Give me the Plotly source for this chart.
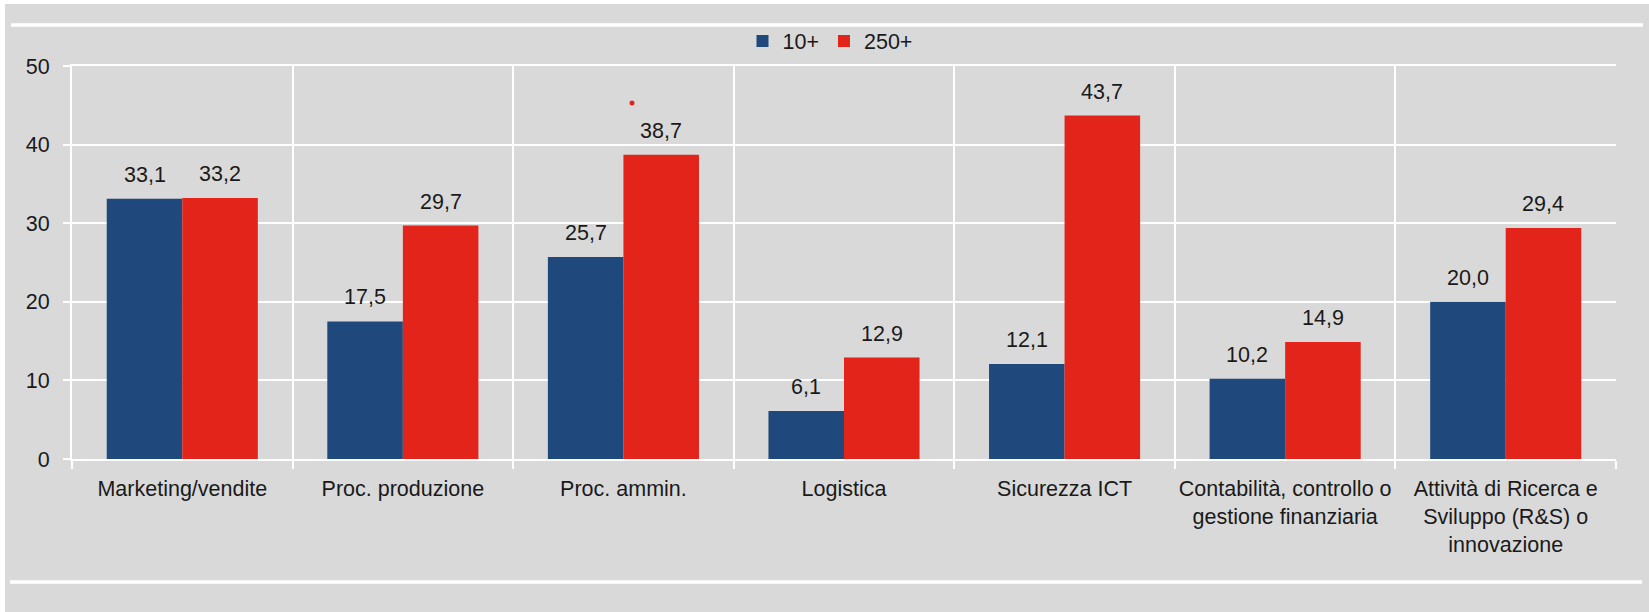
import plotly.graph_objects as go

# dati
categorie = [
    "Marketing/vendite",
    "Proc. produzione",
    "Proc. ammin.",
    "Logistica",
    "Sicurezza ICT",
    "Contabilità, controllo o<br>gestione finanziaria",
    "Attività di Ricerca e<br>Sviluppo (R&S) o<br>innovazione",
]
imprese_10 = [33.1, 17.5, 25.7, 6.1, 12.1, 10.2, 20.0]
imprese_250 = [33.2, 29.7, 38.7, 12.9, 43.7, 14.9, 29.4]
serie = ["10+", "250+"]
y_ticks = [0, 10, 20, 30, 40, 50]

BLU = "#1F497D"
ROSSO = "#E3241B"
GRIGIO = "#D9D9D9"
TESTO = "#1a1a1a"
FONT = "Liberation Sans, Arial, sans-serif"
FS = 21.5

W, H = 1649, 612
L, R, T, B = 72, 33, 66, 153


def px_x(px):
    return (px - L) / (W - L - R)


def px_y(py):
    return (H - B - py) / (H - T - B)


fig = go.Figure()
fig.add_trace(go.Bar(x=categorie, y=imprese_10, name=serie[0],
                     marker=dict(color=BLU, line_width=0)))
fig.add_trace(go.Bar(x=categorie, y=imprese_250, name=serie[1],
                     marker=dict(color=ROSSO, line_width=0)))

# etichette dei valori sopra le barre
larg = (W - L - R) / len(categorie) * (1 - 0.315) / 2
for valori, dx in [(imprese_10, -larg / 2), (imprese_250, larg / 2)]:
    for c, v in zip(categorie, valori):
        fig.add_annotation(
            x=c, y=v, text=f"{v:.1f}".replace(".", ","),
            xshift=dx, yshift=10, yanchor="bottom", showarrow=False,
            font=dict(size=FS, color=TESTO, family=FONT),
        )

# cornice: bordi bianchi e linee orizzontali decorative
forme = [
    dict(type="rect", x0=px_x(0), x1=px_x(W), y0=px_y(0), y1=px_y(4)),
    dict(type="rect", x0=px_x(0), x1=px_x(5), y0=px_y(0), y1=px_y(H)),
]
for s in forme:
    s.update(xref="paper", yref="paper", fillcolor="white", line_width=0, layer="below")
    fig.add_shape(**s)
fig.add_shape(type="line", xref="paper", yref="paper", x0=px_x(11), x1=px_x(1643),
              y0=px_y(25), y1=px_y(25), line=dict(color="white", width=3.5))
fig.add_shape(type="line", xref="paper", yref="paper", x0=px_x(10), x1=px_x(1642),
              y0=px_y(582), y1=px_y(582), line=dict(color="white", width=3.5))
# puntino rosso presente nell'originale
fig.add_shape(type="circle", xref="paper", yref="paper",
              x0=px_x(629.5), x1=px_x(634.5), y0=px_y(100.5), y1=px_y(105.5),
              fillcolor=ROSSO, line_width=0)

fig.update_layout(
    width=W, height=H,
    margin=dict(l=L, r=R, t=T, b=B),
    paper_bgcolor=GRIGIO, plot_bgcolor=GRIGIO,
    barmode="group", bargap=0.315, bargroupgap=0,
    font=dict(family=FONT, size=FS, color=TESTO),
    legend=dict(orientation="h", x=px_x(830), xanchor="center",
                y=px_y(41), yanchor="middle", font=dict(size=FS),
                bgcolor="rgba(0,0,0,0)"),
)
fig.update_xaxes(
    tickson="boundaries", showgrid=True, gridcolor="white", gridwidth=2,
    ticks="outside", ticklen=8, tickcolor="white", tickwidth=2,
    showline=True, linecolor="white", linewidth=2, mirror=True,
    tickfont=dict(size=FS, color=TESTO), range=[-0.5, 6.5],
    ticklabelstandoff=9, tickangle=0, automargin=False,
)
fig.update_yaxes(
    range=[0, 50], tickvals=y_ticks, showgrid=True, gridcolor="white", gridwidth=2,
    ticks="outside", ticklen=7, tickcolor="white", tickwidth=2,
    showline=True, linecolor="white", linewidth=2, zeroline=False,
    tickfont=dict(size=FS, color=TESTO), ticklabelstandoff=9, automargin=False,
)

fig.write_html("out.html", config={"displayModeBar": False},
               post_script="document.body.style.margin='0';")
